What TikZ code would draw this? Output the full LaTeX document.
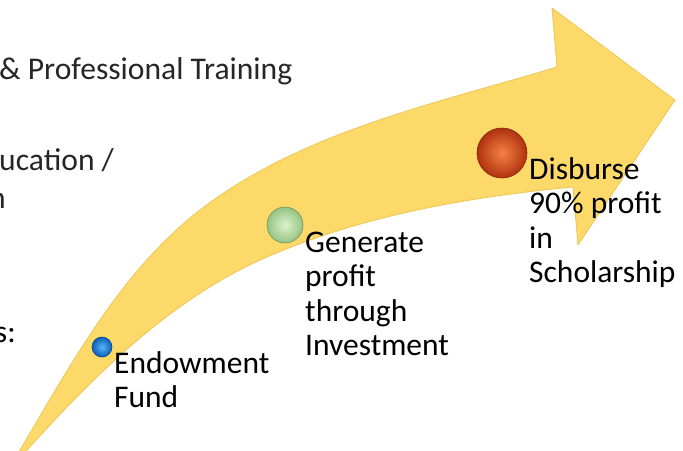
\documentclass[tikz,border=0pt]{standalone}
\usepackage{fontspec}
\setmainfont{Carlito}
\definecolor{arrowfill}{RGB}{253,217,105}
\definecolor{arrowedge}{RGB}{238,198,86}
\definecolor{bluein}{RGB}{90,180,245}
\definecolor{blueout}{RGB}{10,95,185}
\definecolor{greenin}{RGB}{220,242,205}
\definecolor{greenout}{RGB}{150,195,130}
\definecolor{redin}{RGB}{245,130,70}
\definecolor{redout}{RGB}{175,50,15}
\definecolor{slidetext}{RGB}{38,38,38}
\tikzset{
  lbl/.style={anchor=base west, inner sep=0pt, align=left, font=\fontsize{31.5}{34.5}\selectfont},
  side/.style={anchor=base west, inner sep=0pt, text=slidetext, font=\fontsize{31.6}{38}\selectfont},
  ball/.style 2 args={circle, inner sep=0pt, draw=#2!75!black, line width=0.6pt,
    inner color=#1, outer color=#2}
}
\begin{document}
\begin{tikzpicture}[x=1pt,y=-1pt]
\useasboundingbox (0,0) rectangle (683,450);
% arrow
\filldraw[fill=arrowfill, draw=arrowedge, line width=0.8pt, line join=round]
  (20,450) .. controls (71,364) and (121,271) .. (200,210)
  .. controls (301,132) and (434,104) .. (557,67)
  -- (552,8) -- (675,100) -- (578,245) -- (573,187)
  .. controls (469,197) and (364,215) .. (267,257)
  .. controls (172,298) and (96,374) .. (27,450)
  -- (20,458) -- (15,458) -- cycle;
% balls
\node[ball={bluein}{blueout}, minimum size=20pt] (b1) at (102,347) {};
\node[ball={greenin}{greenout}, minimum size=36pt] (b2) at (285,225) {};
\node[ball={redin}{redout}, minimum size=50pt] (b3) at (502,153) {};
% labels (anchored at the baseline of the last line)
\node[lbl] (l1) at (114,407.5) {Endowment\\Fund};
\node[lbl] (l2) at (305,355.5) {Generate\\profit\\through\\Investment};
\node[lbl] (l3) at (529,282.5) {Disburse\\90\% profit\\in\\Scholarship};
% cut-off slide text
\node[side] (s1) at (-1,79) {\& Professional Training};
\node[side] (s2) at (-1,170) {ucation /};
\node[side] (s3) at (-11,208) {n};
\node[side, anchor=base east, text=black] (s4) at (16,342) {s:};
\end{tikzpicture}
\end{document}
